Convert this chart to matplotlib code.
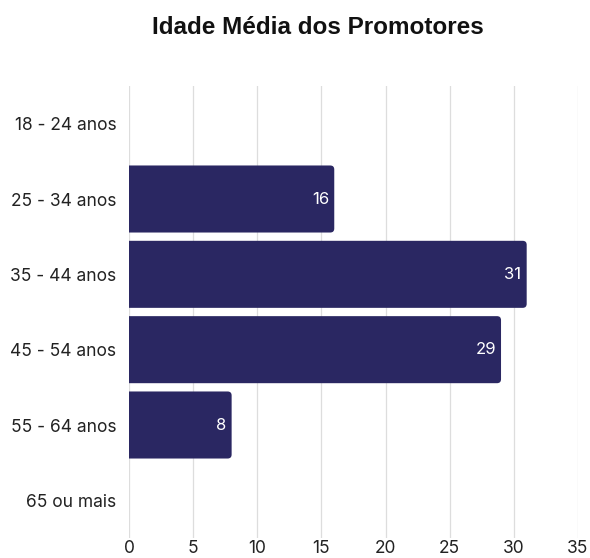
import matplotlib.pyplot as plt
from matplotlib.patches import FancyBboxPatch

# Age bands and count of promoters in each
faixas = ['18 - 24 anos', '25 - 34 anos', '35 - 44 anos', '45 - 54 anos', '55 - 64 anos', '65 ou mais']
valores = [0, 16, 31, 29, 8, 0]
ticks_x = [0, 5, 10, 15, 20, 25, 30, 35]

cor_barra = '#2a2762'
plt.rcParams['font.family'] = ['Inter', 'DejaVu Sans']

fig = plt.figure(figsize=(5.9, 5.58), dpi=100)
ax = fig.add_axes([129 / 590, 1 - 538 / 558, 449 / 590, 452 / 558])

y = list(range(len(faixas)))
bars = ax.barh(y, valores, height=0.89, color='none')

# rounded bars: square on the left (clipped at 0), rounded on the right
rx = 4 / 12.8
ry = 4 / 75.4
for b, v in zip(bars, valores):
    if v <= 0:
        continue
    x0, y0 = b.get_x(), b.get_y()
    h = b.get_height()
    p = FancyBboxPatch((x0 - 1, y0), v + 1, h,
                       boxstyle=f'round,pad=0,rounding_size={rx}',
                       mutation_aspect=ry / rx,
                       facecolor=cor_barra, edgecolor='none', zorder=3)
    ax.add_patch(p)
    ax.text(v - 0.4, y0 + h / 2, str(v), ha='right', va='center',
            color='white', fontsize=12, zorder=4)

ax.set_xlim(0, 35)
ax.set_ylim(len(faixas) - 0.5, -0.5)
ax.set_xticks(ticks_x)
ax.set_yticks(y)
ax.set_yticklabels(faixas)
ax.grid(axis='x', color='#dddddd', linewidth=0.9, zorder=0)
ax.set_axisbelow(True)
for s in ax.spines.values():
    s.set_visible(False)
ax.tick_params(axis='both', length=0, labelsize=12.5, colors='#222222')
ax.tick_params(axis='x', pad=1.5)
ax.tick_params(axis='y', pad=9)

fig.text(318 / 590, 1 - 28 / 558, 'Idade Média dos Promotores', ha='center', va='center',
         fontsize=17.5, fontweight='bold', color='#111111', family='Liberation Sans')

fig.savefig('out.png', dpi=100)
